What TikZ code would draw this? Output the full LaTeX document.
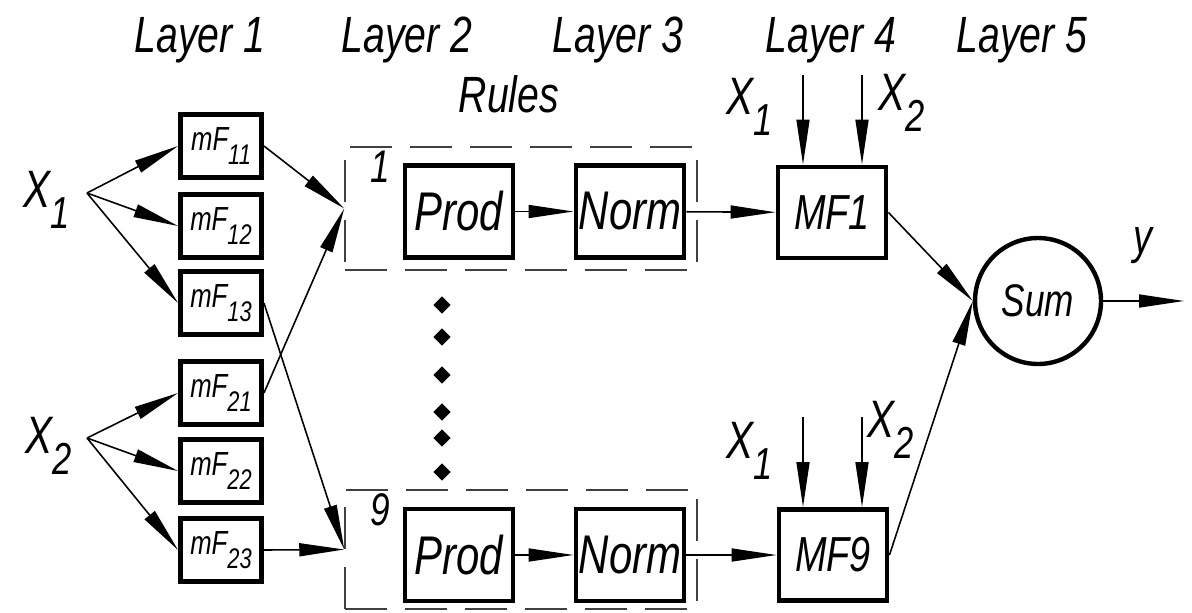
\documentclass[tikz,border=0pt]{standalone}
\usepackage{fontspec}
\setmainfont{Liberation Sans}[FakeStretch=0.77]
\usetikzlibrary{arrows.meta,shapes.geometric,positioning}
\newcommand{\sbs}[1]{\raisebox{-0.4em}{\scalebox{0.85}{#1}}}
\tikzset{
  gost/.style = {inner sep=0pt, font=\itshape\fontsize{#1}{#1}\selectfont},
  gost/.default = 29pt,
  mf_n/.style = {draw=black, line width=2.8pt, minimum width=1.62cm,
    minimum height=1.26cm, inner sep=0pt, gost=19pt},
  blk_n/.style = {draw=black, line width=2.8pt, minimum width=2.16cm,
    minimum height=1.84cm, inner sep=0pt},% Prod, Norm, MF
  rule_n/.style = {draw=black!75, line width=0.9pt,
    dash pattern=on 0.84cm off 0.36cm, minimum width=7.04cm, inner sep=0pt},
  sum_n/.style = {circle, draw=black, line width=2.5pt,
    minimum size=2.52cm, inner sep=0pt, gost=26pt},
  dot_n/.style = {diamond, fill=black, inner sep=0pt, minimum size=0.36cm},
}

\begin{document}
\begin{tikzpicture}[x=0.02cm, y=-0.02cm, line width=0.9pt,
  >={Triangle[length=0.9cm,width=0.26cm]}]
\useasboundingbox (0,0) rectangle (1192,612);
% layer titles
\node [gost, anchor=base] (L_1) at (200,52) {Layer 1};
\node [gost, anchor=base] (L_2) at (407,52) {Layer 2};
\node [gost, anchor=base] (L_3) at (618,52) {Layer 3};
\node [gost, anchor=base] (L_4) at (831,52) {Layer 4};
\node [gost, anchor=base] (L_5) at (1022,52) {Layer 5};
\node [gost, anchor=base] (rules) at (509,112) {Rules};

% layer 1
\node [gost=30pt] (x_1) at (47,200) {X\sbs{1}};
\node [gost=30pt] (x_2) at (49,446) {X\sbs{2}};
\coordinate (x_1s) at (87,193);
\coordinate (x_2s) at (87,438);
\node [mf_n] (mF_11) at (221,146) {mF\sbs{11}};
\node [mf_n] (mF_12) at (221,226) {mF\sbs{12}};
\node [mf_n] (mF_13) at (221,303) {mF\sbs{13}};
\node [mf_n] (mF_21) at (221,393) {mF\sbs{21}};
\node [mf_n] (mF_22) at (221,471) {mF\sbs{22}};
\node [mf_n] (mF_23) at (221,550) {mF\sbs{23}};
\foreach \m in {11,12,13} \draw [->] (x_1s) -- (mF_\m.west);
\foreach \m in {21,22,23} \draw [->] (x_2s) -- (mF_\m.west);

% rules 1 and 9
\node [rule_n, minimum height=2.46cm] (rule_1) at (521,208.5) {};
\node [rule_n, minimum height=2.38cm] (rule_9) at (521,549.5) {};
\node [gost=26pt] (n_1) at (380,167) {1};
\node [gost=26pt] (n_9) at (380,510) {9};
\node [blk_n, gost=31pt] (prod_1) at (459,211.5) {Prod};
\node [blk_n, gost=31pt] (norm_1) at (630,211.5) {Norm};
\node [blk_n, gost=31pt] (prod_9) at (459,555) {Prod};
\node [blk_n, gost=31pt] (norm_9) at (630,555) {Norm};
\foreach \y in {305,337,375,412,438,472}
  \node [dot_n] (dot_\y) at (442,\y) {};
\draw [->] (mF_11.east) -- (rule_1.west);
\draw [->] (mF_21.east) -- (rule_1.west);
\draw [->] (mF_13.east) -- (rule_9.west);
\draw [->] (mF_23.east) -- (rule_9.west);
\draw [->] (prod_1) -- (norm_1);
\draw [->] (prod_9) -- (norm_9);

% layer 4
\node [blk_n, gost=28pt, minimum height=1.82cm] (MF_1) at (832,212.5) {MF1};
\node [blk_n, gost=28pt, minimum height=1.82cm] (MF_9) at (833,555) {MF9};
\draw [->] (norm_1) -- (MF_1);
\draw [->] (norm_9) -- (MF_9);
\node [gost=30pt] (a_1) at (750,107) {X\sbs{1}};
\node [gost=30pt] (a_2) at (902,103) {X\sbs{2}};
\node [gost=30pt] (b_1) at (750,451) {X\sbs{1}};
\node [gost=30pt] (b_2) at (891,430) {X\sbs{2}};
\coordinate (a_1s) at (803,75);
\coordinate (a_2s) at (862,75);
\coordinate (b_1s) at (803,417);
\coordinate (b_2s) at (862,417);
\draw [->] (a_1s) -- (a_1s |- MF_1.north);
\draw [->] (a_2s) -- (a_2s |- MF_1.north);
\draw [->] (b_1s) -- (b_1s |- MF_9.north);
\draw [->] (b_2s) -- (b_2s |- MF_9.north);

% layer 5
\node [sum_n] (sum) at (1038,301) {Sum};
\coordinate (y_e) at (1184,301);
\node [gost=28pt] (y) at (1143,246) {y};
\draw [->] (MF_1.east) -- (sum.west);
\draw [->] (MF_9.east) -- (sum.west);
\draw [->] (sum) -- (y_e);
\end{tikzpicture}
\end{document}
